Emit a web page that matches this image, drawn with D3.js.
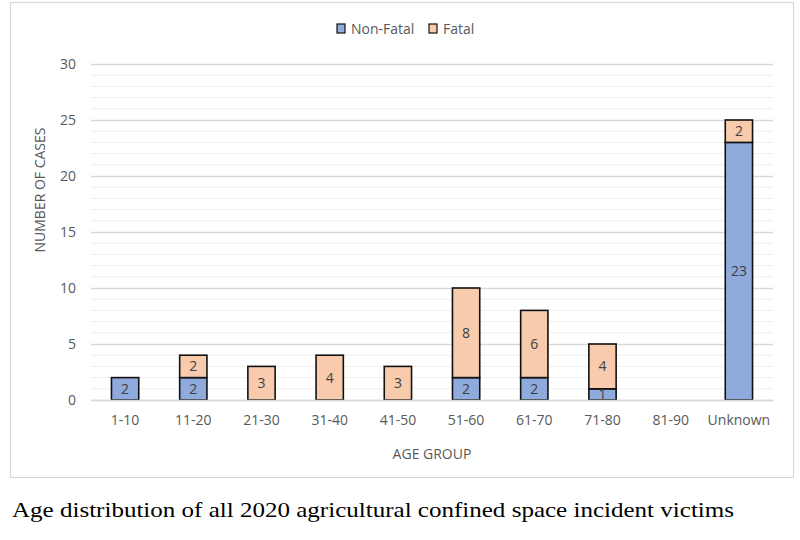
<!DOCTYPE html>
<html><head><meta charset="utf-8">
<script src="https://cdn.jsdelivr.net/npm/d3@7"></script>
<style>
body{margin:0;background:#fff;}
svg text{font-family:"Open Sans",sans-serif;}
</style></head>
<body>
<svg id="c" width="800" height="540"></svg>
<script>
const categories = ["1-10","11-20","21-30","31-40","41-50","51-60","61-70","71-80","81-90","Unknown"];
const nonFatal = [2,2,0,0,0,2,2,1,0,23];
const fatal    = [0,2,3,4,3,8,6,4,0,2];
const seriesNames = ["Non-Fatal","Fatal"];
const yTicks = [0,5,10,15,20,25,30];
const colors = {"Non-Fatal":"#8FAADC","Fatal":"#F8CBAD"};

const svg = d3.select("#c");
const m = {left:91,right:773,top:64,bottom:400};
const FS = "14px";

// frame
svg.append("rect").attr("x",10.5).attr("y",2.5).attr("width",783).attr("height",475)
  .attr("fill","#fff").attr("stroke","#d9d9d9").attr("stroke-width",1.2);

const x = d3.scaleBand().domain(categories).range([m.left,m.right]).paddingInner(0.6).paddingOuter(0.3);
const y = d3.scaleLinear().domain([0,30]).range([m.bottom,m.top]);

// minor gridlines
const minor = d3.range(0,31).filter(v=>v%5!==0);
svg.append("g").selectAll("line").data(minor).join("line")
  .attr("x1",m.left).attr("x2",m.right).attr("y1",d=>y(d)).attr("y2",d=>y(d))
  .attr("stroke","#efefef").attr("stroke-width",1);
// major gridlines via axis
const yAxis = svg.append("g").attr("transform",`translate(${m.left},0)`)
  .call(d3.axisLeft(y).tickValues(yTicks).tickSize(-(m.right-m.left)).tickPadding(15));
yAxis.select(".domain").remove();
yAxis.selectAll(".tick line").attr("stroke","#d9d9d9").attr("stroke-width",1.3);
yAxis.selectAll(".tick text").attr("fill","#595959").style("font-size",FS);

// stacked data
const data = categories.map((c,i)=>({cat:c,"Non-Fatal":nonFatal[i],"Fatal":fatal[i]}));
const stack = d3.stack().keys(seriesNames)(data);

const g = svg.append("g");
stack.forEach(s=>{
  const key = s.key;
  s.forEach(d=>{
    const v = d[1]-d[0];
    if(v<=0) return;
    g.append("rect").attr("x",x(d.data.cat)).attr("width",x.bandwidth())
      .attr("y",y(d[1])).attr("height",y(d[0])-y(d[1]))
      .attr("fill",colors[key]).attr("stroke","#111").attr("stroke-width",1.6);
  });
});
stack.forEach(s=>{
  s.forEach(d=>{
    const v = d[1]-d[0];
    if(v<=0) return;
    g.append("text").attr("x",x(d.data.cat)+x.bandwidth()/2)
      .attr("y",y((d[0]+d[1])/2)).attr("dy","0.36em")
      .attr("text-anchor","middle").attr("fill","#404040").style("font-size",FS)
      .text(v);
  });
});

// x axis
const xAxis = svg.append("g").attr("transform",`translate(0,${m.bottom})`)
  .call(d3.axisBottom(x).tickSize(0).tickPadding(15));
xAxis.select(".domain").attr("stroke","#d9d9d9").attr("stroke-width",1.3);
xAxis.selectAll(".tick text").attr("fill","#595959").style("font-size",FS);

// axis titles
svg.append("text").attr("x",(m.left+m.right)/2).attr("y",459).attr("text-anchor","middle")
  .attr("fill","#595959").style("font-size",FS).text("AGE GROUP");
svg.append("text").attr("transform",`translate(45,190) rotate(-90)`)
  .attr("text-anchor","middle").attr("fill","#595959").style("font-size",FS).text("NUMBER OF CASES");

// legend
const leg = svg.append("g");
const legPos = [{k:"Non-Fatal",x:337},{k:"Fatal",x:429}];
legPos.forEach(p=>{
  leg.append("rect").attr("x",p.x).attr("y",24).attr("width",8).attr("height",9)
    .attr("fill",colors[p.k]).attr("stroke","#111").attr("stroke-width",1.2);
  leg.append("text").attr("x",p.x+14).attr("y",29).attr("dy","0.36em")
    .attr("fill","#595959").style("font-size",FS).text(p.k);
});

// caption
svg.append("text").attr("x",12).attr("y",517).attr("fill","#000")
  .attr("textLength",722).attr("lengthAdjust","spacingAndGlyphs")
  .style("font-family","'Liberation Serif','Times New Roman',serif").style("font-size","22px")
  .text("Age distribution of all 2020 agricultural confined space incident victims");
</script>
</body></html>
